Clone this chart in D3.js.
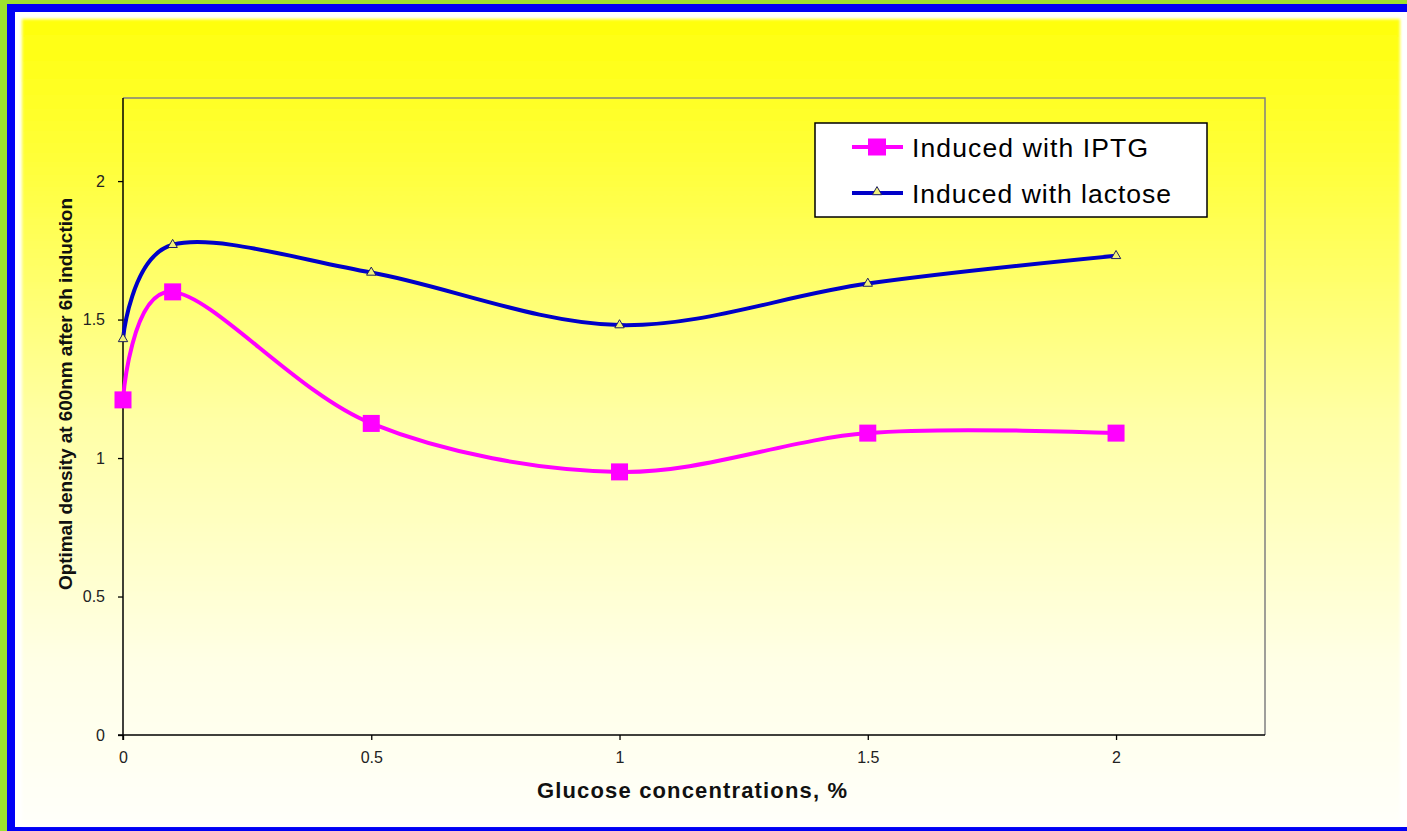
<!DOCTYPE html>
<html>
<head>
<meta charset="utf-8">
<script src="https://cdn.jsdelivr.net/npm/d3@7"></script>
<style>
  html, body { margin: 0; padding: 0; background: #ffffff; }
  svg { display: block; }
  text { font-family: "Liberation Sans", Arial, sans-serif; }
</style>
</head>
<body>
<script>
// Optical density after 6 h induction vs. glucose concentration
const glucose = [0, 0.1, 0.5, 1, 1.5, 2];
const iptgOD = [1.21, 1.60, 1.125, 0.95, 1.09, 1.09];
const lactoseOD = [1.43, 1.77, 1.67, 1.48, 1.63, 1.73];
const seriesNames = ["Induced with IPTG", "Induced with lactose"];
const xTickValues = [0, 0.5, 1, 1.5, 2];
const yTickValues = [0, 0.5, 1, 1.5, 2];

const W = 1407, H = 831;
const plot = { left: 123, top: 98, right: 1265, bottom: 735 };

const svg = d3.select("body").append("svg")
  .attr("width", W).attr("height", H);

const defs = svg.append("defs");
const grad = defs.append("linearGradient")
  .attr("id", "bgGrad").attr("x1", 0).attr("y1", 0).attr("x2", 0).attr("y2", 1);
grad.append("stop").attr("offset", 0).attr("stop-color", "#ffff0c");
grad.append("stop").attr("offset", 0.18).attr("stop-color", "#ffff3a");
grad.append("stop").attr("offset", 0.5).attr("stop-color", "#ffffa6");
grad.append("stop").attr("offset", 0.8).attr("stop-color", "#ffffe6");
grad.append("stop").attr("offset", 1).attr("stop-color", "#fffffa");

defs.append("filter").attr("id", "soft")
  .attr("x", "-2%").attr("y", "-2%").attr("width", "104%").attr("height", "104%")
  .append("feGaussianBlur").attr("stdDeviation", 1.4);

// frame: green edge, blue border, white inner rim, gradient fill
svg.append("rect").attr("x", 0).attr("y", 0).attr("width", W).attr("height", H)
  .attr("fill", "#9de22e");
svg.append("rect").attr("x", 7).attr("y", 4).attr("width", W - 7).attr("height", H - 4)
  .attr("fill", "#0000f5");
svg.append("rect").attr("x", 15).attr("y", 12).attr("width", W - 15).attr("height", 815)
  .attr("fill", "#ffffff");
svg.append("rect").attr("x", 22).attr("y", 19).attr("width", 1378).attr("height", 806)
  .attr("fill", "url(#bgGrad)").attr("filter", "url(#soft)");

const x = d3.scaleLinear().domain([0, 2.3]).range([plot.left, plot.right]);
const y = d3.scaleLinear().domain([0, 2.3]).range([plot.bottom, plot.top]);

// plot area outline (top/right grey)
svg.append("path")
  .attr("d", `M${plot.left},${plot.top}H${plot.right}V${plot.bottom}`)
  .attr("fill", "none").attr("stroke", "#808080").attr("stroke-width", 1.5);

// axes
const xAxis = svg.append("g")
  .attr("transform", `translate(0,${plot.bottom})`)
  .call(d3.axisBottom(x).tickValues(xTickValues).tickSizeInner(5).tickSizeOuter(0)
    .tickPadding(12).tickFormat(d3.format("")));
const yAxis = svg.append("g")
  .attr("transform", `translate(${plot.left},0)`)
  .call(d3.axisLeft(y).tickValues(yTickValues).tickSizeInner(5).tickSizeOuter(0)
    .tickPadding(13).tickFormat(d3.format("")));

[xAxis, yAxis].forEach(g => {
  g.select(".domain").attr("stroke", "#000").attr("stroke-width", 1.5);
  g.selectAll(".tick line").attr("stroke", "#000").attr("stroke-width", 1.3);
  g.selectAll(".tick text").attr("fill", "#222").attr("font-size", 16)
    .attr("font-family", "'Liberation Sans', Arial, sans-serif");
});
// extend axis lines slightly past the corner like a chart frame
yAxis.select(".domain").attr("d", `M0,${plot.top}V${plot.bottom + 5}`);
xAxis.select(".domain").attr("d", `M${plot.left - 5},0H${plot.right}`);

// axis titles
svg.append("text")
  .attr("x", 537).attr("y", 798)
  .attr("font-size", 22).attr("font-weight", "bold")
  .attr("textLength", 310).attr("lengthAdjust", "spacing")
  .attr("fill", "#111")
  .text("Glucose concentrations, %");
svg.append("text")
  .attr("transform", `translate(72,590) rotate(-90)`)
  .attr("font-size", 19).attr("font-weight", "bold")
  .attr("textLength", 392).attr("lengthAdjust", "spacing")
  .attr("fill", "#111")
  .text("Optimal density at 600nm after 6h induction");

// smoothed series lines
const line = d3.line().curve(d3.curveCardinal.tension(0))
  .x(d => x(d[0])).y(d => y(d[1]));

const iptgPts = glucose.map((g, i) => [g, iptgOD[i]]);
const lacPts = glucose.map((g, i) => [g, lactoseOD[i]]);

const magenta = "#ff00ff", navy = "#0000c8";

svg.append("path").datum(lacPts).attr("d", line)
  .attr("fill", "none").attr("stroke", navy).attr("stroke-width", 4);
svg.append("path").datum(iptgPts).attr("d", line)
  .attr("fill", "none").attr("stroke", magenta).attr("stroke-width", 4);

const sq = 17;
svg.append("g").selectAll("rect").data(iptgPts).join("rect")
  .attr("x", d => x(d[0]) - sq / 2).attr("y", d => y(d[1]) - sq / 2)
  .attr("width", sq).attr("height", sq).attr("fill", magenta);

const tri = d3.symbol().type(d3.symbolTriangle).size(38);
svg.append("g").selectAll("path").data(lacPts).join("path")
  .attr("d", tri)
  .attr("transform", d => `translate(${x(d[0])},${y(d[1])})`)
  .attr("fill", "#f2f27a").attr("stroke", "#202060").attr("stroke-width", 1);

// legend
const lg = svg.append("g");
lg.append("rect").attr("x", 815).attr("y", 123).attr("width", 392).attr("height", 94)
  .attr("fill", "#ffffff").attr("stroke", "#000").attr("stroke-width", 1.5);
const rows = [147, 193];
// IPTG entry
lg.append("line").attr("x1", 852).attr("x2", 903).attr("y1", rows[0]).attr("y2", rows[0])
  .attr("stroke", magenta).attr("stroke-width", 4);
lg.append("rect").attr("x", 868).attr("y", rows[0] - 8.5).attr("width", 18).attr("height", 17)
  .attr("fill", magenta);
// lactose entry
lg.append("line").attr("x1", 852).attr("x2", 903).attr("y1", rows[1]).attr("y2", rows[1])
  .attr("stroke", navy).attr("stroke-width", 4);
lg.append("path").attr("d", tri).attr("transform", `translate(877,${rows[1] - 1})`)
  .attr("fill", "#f2f27a").attr("stroke", "#202060").attr("stroke-width", 1);
const legendWidths = [236, 259];
lg.selectAll("text.lbl").data(seriesNames).join("text")
  .attr("class", "lbl")
  .attr("x", 912).attr("y", (d, i) => rows[i] + 9.5)
  .attr("font-size", 26.5).attr("fill", "#000")
  .attr("textLength", (d, i) => legendWidths[i]).attr("lengthAdjust", "spacing")
  .text(d => d);
</script>
</body>
</html>
